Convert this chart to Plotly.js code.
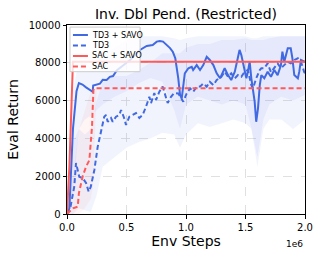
<!DOCTYPE html>
<html>
<head>
<meta charset="utf-8">
<script src="https://cdn.plot.ly/plotly-3.0.1.min.js"></script>
<style>html,body{margin:0;padding:0;background:#fff;}#chart{width:324px;height:259px;}</style>
</head>
<body>
<div id="chart"></div>
<script>
// Env steps in units of 1e6
const td3SavoX = [0,0.02,0.05,0.08,0.10,0.13,0.16,0.19,0.216,0.22,0.277,0.30,0.333,0.36,0.387,0.418,0.47,0.50,0.53,0.586,0.613,0.67,0.72,0.754,0.78,0.807,0.838,0.866,0.89,0.91,0.935,0.95,0.964,0.99,1.02,1.048,1.06,1.09,1.118,1.145,1.174,1.20,1.23,1.258,1.286,1.325,1.353,1.38,1.41,1.437,1.45,1.465,1.493,1.507,1.52,1.535,1.549,1.577,1.59,1.605,1.62,1.633,1.658,1.686,1.714,1.742,1.77,1.798,1.81,1.826,1.855,1.88,1.894,1.91,1.94,1.952,1.966,1.994,2.0];
const td3SavoY = [0,300,4500,6500,6930,6850,6700,6550,6470,6800,6900,7100,7090,7260,7300,7600,7880,8000,8150,8500,8680,8890,8940,9120,9150,9120,8940,8780,8570,8240,7180,6300,6120,7440,7710,7790,7620,7880,7620,7880,8320,8150,7880,7440,7180,7710,7350,7090,7530,8410,8680,8410,7530,7180,7530,8060,7180,5940,4880,5590,6820,7350,7180,7530,7260,7620,7350,7880,8590,8060,8770,8770,8240,7350,7180,7530,8150,8060,8050];

const td3X = [0,0.03,0.061,0.076,0.103,0.132,0.16,0.182,0.20,0.23,0.258,0.286,0.313,0.328,0.342,0.37,0.384,0.412,0.44,0.454,0.48,0.496,0.524,0.552,0.58,0.608,0.636,0.664,0.692,0.706,0.734,0.748,0.776,0.804,0.832,0.846,0.874,0.90,0.935,0.977,1.006,1.034,1.061,1.09,1.118,1.145,1.174,1.20,1.23,1.258,1.297,1.325,1.353,1.38,1.41,1.437,1.465,1.493,1.52,1.549,1.563,1.59,1.62,1.633,1.658,1.686,1.714,1.742,1.77,1.798,1.826,1.855,1.88,1.91,1.94,1.966,1.994,2.0];
const td3Y = [0,400,1450,2700,1970,1900,1640,1180,1450,2330,3560,4440,5150,5240,4880,5080,4880,5150,5240,5500,5080,4710,5150,5240,5340,5080,5240,5680,6200,5870,6400,6030,6470,6740,6200,5870,6200,6400,6380,5940,6380,6650,6470,6740,6740,6910,6740,7000,6820,7090,7260,7530,7260,7440,7180,7350,7260,7530,7620,6820,6650,7180,7620,7710,7710,7970,7500,7710,7970,7710,7880,8060,7970,8150,8240,8060,7500,7450];

const sacSavoX = [0,0.02,0.05,2.0];
const sacSavoY = [0,2500,8050,8050];

const sacX = [0,0.05,0.09,0.10,0.132,0.16,0.188,0.21,0.222,0.23,2.0];
const sacY = [0,300,390,1100,2000,2500,2850,4600,6560,6650,6650];

// shaded spread bands
const bandX = [0,0.05,0.1,0.15,0.2,0.25,0.3,0.4,0.5,0.6,0.7,0.8,0.9,0.95,1.0,1.1,1.2,1.3,1.4,1.5,1.55,1.6,1.65,1.7,1.8,1.9,2.0];
const td3SavoLo = [0,1000,4500,5000,5200,5500,5800,6200,6500,6900,7200,7000,5500,4500,5800,6200,6000,5800,6000,5800,4500,3000,5000,5800,6200,6000,6300];
const td3SavoHi = [0,6500,8200,8000,7800,8200,8400,8800,9200,9400,9400,9400,9300,9200,9300,9400,9400,9400,9400,9400,9300,9300,9400,9400,9400,9400,9400];
const td3Lo = [0,0,300,200,100,1000,2500,3000,3500,3800,4000,4300,4200,3500,4200,4800,4600,4800,5000,4800,4500,2500,4500,5000,5000,4500,5000];
const td3Hi = [0,3800,4500,4200,4500,6000,7000,7300,7300,7600,8000,8500,8500,8500,8800,9000,9000,9200,9200,9300,9200,9200,9200,9300,9400,9400,9400];
const sacBandX = [0,0.05,0.1,0.15,0.2,0.22,0.25];
const sacLo = [0,0,0,300,800,1500,6650];
const sacHi = [0,2000,4500,5500,6500,6650,6650];

const names = ['TD3 + SAVO','TD3','SAC + SAVO','SAC'];
const yTicks = [0,2000,4000,6000,8000,10000];
const xTicks = [0,0.5,1.0,1.5,2.0];

const BLUE = 'rgb(65,105,225)';
const RED = 'rgb(255,90,90)';

function band(x, lo, hi, color) {
  return {
    x: x.concat(x.slice().reverse()),
    y: hi.concat(lo.slice().reverse()),
    type: 'scatter', mode: 'lines', fill: 'toself',
    fillcolor: color, line: {width: 0}, hoverinfo: 'skip', showlegend: false
  };
}

const traces = [
  band(bandX, td3Lo, td3Hi, 'rgba(65,105,225,0.07)'),
  band(bandX, td3SavoLo, td3SavoHi, 'rgba(65,105,225,0.07)'),
  band(sacBandX, sacLo, sacHi, 'rgba(255,90,90,0.06)'),
  {x: td3SavoX, y: td3SavoY, type:'scatter', mode:'lines', name:names[0], line:{color:BLUE, width:2}},
  {x: td3X, y: td3Y, type:'scatter', mode:'lines', name:names[1], line:{color:BLUE, width:2, dash:'5px,3px'}},
  {x: sacSavoX, y: sacSavoY, type:'scatter', mode:'lines', name:names[2], line:{color:RED, width:2}},
  {x: sacX, y: sacY, type:'scatter', mode:'lines', name:names[3], line:{color:RED, width:2, dash:'5px,3px'}}
];

// manual legend (compact, matplotlib-like)
const legRowsY = [0.947, 0.892, 0.836, 0.780];
const legStyles = [
  {color:BLUE, dash:'solid'}, {color:BLUE, dash:'5px,3px'},
  {color:RED, dash:'solid'}, {color:RED, dash:'5px,3px'}
];
const shapes = [{
  type:'rect', xref:'paper', yref:'paper', x0:0.0126, x1:0.307, y0:0.753, y1:0.989,
  fillcolor:'rgba(255,255,255,0.8)', line:{color:'#cccccc', width:1}, layer:'above'
}];
const annotations = [];
names.forEach((n, i) => {
  shapes.push({type:'line', xref:'paper', yref:'paper', x0:0.025, x1:0.088,
    y0:legRowsY[i], y1:legRowsY[i], line:{color:legStyles[i].color, width:2, dash:legStyles[i].dash}, layer:'above'});
  annotations.push({xref:'paper', yref:'paper', x:0.097, y:legRowsY[i], xanchor:'left', yanchor:'middle',
    text:n, showarrow:false, font:{family:'DejaVu Sans', size:8, color:'#000'}});
});
annotations.push({xref:'paper', yref:'paper', x:1.0, y:-0.12, xanchor:'right', yanchor:'top',
  text:'1e6', showarrow:false, font:{family:'DejaVu Sans', size:9, color:'#000'}});

const layout = {
  width:324, height:259,
  margin:{l:67, r:19, t:25, b:45},
  paper_bgcolor:'#fff', plot_bgcolor:'#fff',
  showlegend:false,
  font:{family:'DejaVu Sans', color:'#000'},
  title:{text:'Inv. Dbl Pend. (Restricted)', font:{family:'DejaVu Sans', size:14, color:'#000'},
         x:0.574, xanchor:'center', y:0.945, yanchor:'middle'},
  xaxis:{range:[0,2.0], tickvals:xTicks, ticktext:xTicks.map(v=>v.toFixed(1)),
         showgrid:true, gridcolor:'#d8d8d8', griddash:'dash', gridwidth:0.8,
         showline:true, linecolor:'#000', linewidth:1, mirror:true,
         ticks:'outside', ticklen:3.5, tickcolor:'#000', zeroline:false,
         tickfont:{size:10, family:'DejaVu Sans'},
         title:{text:'Env Steps', font:{size:14, family:'DejaVu Sans'}, standoff:4}},
  yaxis:{range:[0,10000], tickvals:yTicks, ticktext:yTicks.map(String),
         showgrid:true, gridcolor:'#d8d8d8', griddash:'dash', gridwidth:0.8,
         showline:true, linecolor:'#000', linewidth:1, mirror:true,
         ticks:'outside', ticklen:3.5, tickcolor:'#000', zeroline:false,
         tickfont:{size:10, family:'DejaVu Sans'},
         title:{text:'Eval Return', font:{size:14, family:'DejaVu Sans'}, standoff:6}},
  shapes:shapes, annotations:annotations
};

Plotly.newPlot('chart', traces, layout, {staticPlot:true, displayModeBar:false});
</script>
</body>
</html>
